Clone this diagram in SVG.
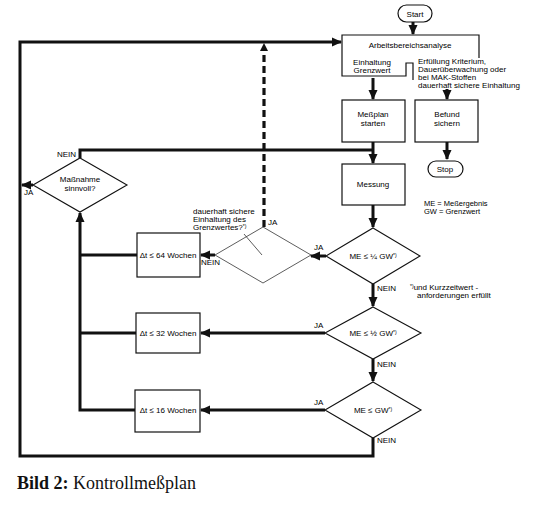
<svg xmlns="http://www.w3.org/2000/svg" width="538" height="508" viewBox="0 0 538 508">
<style>
  .t{font-family:"Liberation Sans",Arial,sans-serif;font-size:8px;fill:#000;}
  .s{font-size:7.5px;}
  .c{text-anchor:middle;}
  .sup{font-size:5px;}
  .box{fill:#fff;stroke:#111;stroke-width:1.2;}
  .dia{fill:#fff;stroke:#111;stroke-width:1.1;}
  .thin{fill:none;stroke:#333;stroke-width:0.8;}
  .flow{fill:none;stroke:#111;stroke-width:3;}
  .dash{fill:none;stroke:#111;stroke-width:3.2;stroke-dasharray:7 4;}
</style>
<defs>
  <marker id="ah" markerUnits="userSpaceOnUse" markerWidth="10" markerHeight="10" viewBox="0 0 10 10" refX="9" refY="5" orient="auto">
    <path d="M0,0.5 L10,5 L0,9.5 Z" fill="#111"/>
  </marker>
</defs>
<rect width="538" height="508" fill="#fff"/>

<g id="connectors">
  <path class="flow" d="M413,22 V34" marker-end="url(#ah)"/>
  <path class="flow" d="M373,78 V99" marker-end="url(#ah)"/>
  <path class="flow" d="M447,89 V99" marker-end="url(#ah)"/>
  <path class="flow" d="M447,142 V159" marker-end="url(#ah)"/>
  <path class="flow" d="M373,142 V163" marker-end="url(#ah)"/>
  <path class="flow" d="M80,158 V150 H373"/>
  <path class="flow" d="M373,205 V227" marker-end="url(#ah)"/>
  <path class="flow" d="M326,256 H311" marker-end="url(#ah)"/>
  <path class="flow" d="M373,284 V306" marker-end="url(#ah)"/>
  <path class="flow" d="M325,333 H201" marker-end="url(#ah)"/>
  <path class="flow" d="M373,359 V381" marker-end="url(#ah)"/>
  <path class="flow" d="M325,410 H201" marker-end="url(#ah)"/>
  <path class="flow" d="M373,438 V456 H20 V42 H341" marker-end="url(#ah)"/>
  <path class="flow" d="M215,255 H201" marker-end="url(#ah)"/>
  <path class="dash" d="M264,227 V50"/>
  <path d="M264,43 L260,51 L268,51 Z" fill="#111"/>
  <path class="flow" d="M137,255 H80"/>
  <path class="flow" d="M137,333 H80"/>
  <path class="flow" d="M137,410 H80 V213" marker-end="url(#ah)"/>
  <path class="flow" d="M33,185 H22" marker-end="url(#ah)"/>
</g>

<g id="start">
  <rect x="398" y="5" width="34" height="17" rx="8.5" class="box" stroke-width="1.4"/>
  <text class="t c" x="415" y="16.5">Start</text>
</g>

<g id="arbeitsbereichsanalyse">
  <path class="box" d="M479,58 V35 H342 V76 H406 V63 H413 V80" style="fill:none"/>
  <text class="t c" x="410" y="48">Arbeitsbereichsanalyse</text>
  <text class="t c" x="372" y="65">Einhaltung</text>
  <text class="t c" x="372" y="73">Grenzwert</text>
  <text class="t" x="418" y="64">Erfüllung Kriterium,</text>
  <text class="t" x="418" y="71.5">Dauerüberwachung oder</text>
  <text class="t" x="418" y="79.5">bei MAK-Stoffen</text>
  <text class="t" x="418" y="88">dauerhaft sichere Einhaltung</text>
</g>

<g id="messplan">
  <rect class="box" x="342" y="100" width="63" height="42"/>
  <text class="t c" x="373" y="117">Meßplan</text>
  <text class="t c" x="373" y="126">starten</text>
</g>

<g id="befund">
  <rect class="box" x="415" y="100" width="63" height="42"/>
  <text class="t c" x="447" y="117">Befund</text>
  <text class="t c" x="447" y="126">sichern</text>
</g>

<g id="stop">
  <rect x="428" y="161" width="35" height="16" rx="8" class="box" stroke-width="1.4"/>
  <text class="t c" x="445" y="172">Stop</text>
</g>

<g id="messung">
  <rect class="box" x="342" y="164" width="63" height="41"/>
  <text class="t c" x="373" y="187">Messung</text>
</g>

<g id="legend">
  <text class="t s" x="424" y="206">ME  = Meßergebnis</text>
  <text class="t s" x="424" y="213.5">GW = Grenzwert</text>
  <text class="t" x="410" y="290"><tspan class="sup" dy="-2">*)</tspan><tspan dy="2">und Kurzzeitwert -</tspan></text>
  <text class="t" x="417" y="297.5">anforderungen erfüllt</text>
</g>

<g id="massnahme">
  <path class="dia" d="M80,158 L127,185 L80,212 L33,185 Z"/>
  <text class="t c" x="80" y="182">Maßnahme</text>
  <text class="t c" x="80" y="191">sinnvoll?</text>
  <text class="t" x="57" y="157">NEIN</text>
  <text class="t" x="24" y="195">JA</text>
</g>

<g id="dauerhaft">
  <path class="thin" d="M263,227 L311,255 L263,283 L215,255 Z"/>
  <path class="thin" d="M244,234 L262,255"/>
  <text class="t" x="193" y="214">dauerhaft sichere</text>
  <text class="t" x="193" y="222">Einhaltung des</text>
  <text class="t" x="193" y="230">Grenzwertes?<tspan class="sup" dy="-2">*)</tspan></text>
  <text class="t" x="268" y="225">JA</text>
  <text class="t" x="201" y="265">NEIN</text>
</g>

<g id="me-viertel">
  <path class="dia" d="M373,228 L420,256 L373,284 L326,256 Z"/>
  <text class="t c" x="373" y="259">ME ≤ ¼ GW<tspan class="sup" dy="-2">*)</tspan></text>
  <text class="t" x="314" y="250">JA</text>
  <text class="t" x="377" y="291">NEIN</text>
</g>

<g id="me-halb">
  <path class="dia" d="M373,307 L421,333 L373,359 L325,333 Z"/>
  <text class="t c" x="373" y="336">ME ≤ ½ GW<tspan class="sup" dy="-2">*)</tspan></text>
  <text class="t" x="314" y="328">JA</text>
  <text class="t" x="377" y="367">NEIN</text>
</g>

<g id="me-gw">
  <path class="dia" d="M373,382 L421,410 L373,438 L325,410 Z"/>
  <text class="t c" x="373" y="413">ME ≤ GW<tspan class="sup" dy="-2">*)</tspan></text>
  <text class="t" x="314" y="405">JA</text>
  <text class="t" x="377" y="443">NEIN</text>
</g>

<g id="dt64">
  <rect class="box" x="137" y="233" width="63" height="44"/>
  <text class="t c" x="168" y="258">Δt ≤ 64 Wochen</text>
</g>
<g id="dt32">
  <rect class="box" x="136" y="313" width="64" height="40"/>
  <text class="t c" x="168" y="336">Δt ≤ 32 Wochen</text>
</g>
<g id="dt16">
  <rect class="box" x="135" y="390" width="65" height="42"/>
  <text class="t c" x="168" y="413">Δt ≤ 16 Wochen</text>
</g>

<text x="17" y="489" style="font-family:'Liberation Serif','Times New Roman',serif;font-size:18px;fill:#111"><tspan font-weight="bold">Bild 2:</tspan> Kontrollmeßplan</text>
</svg>
